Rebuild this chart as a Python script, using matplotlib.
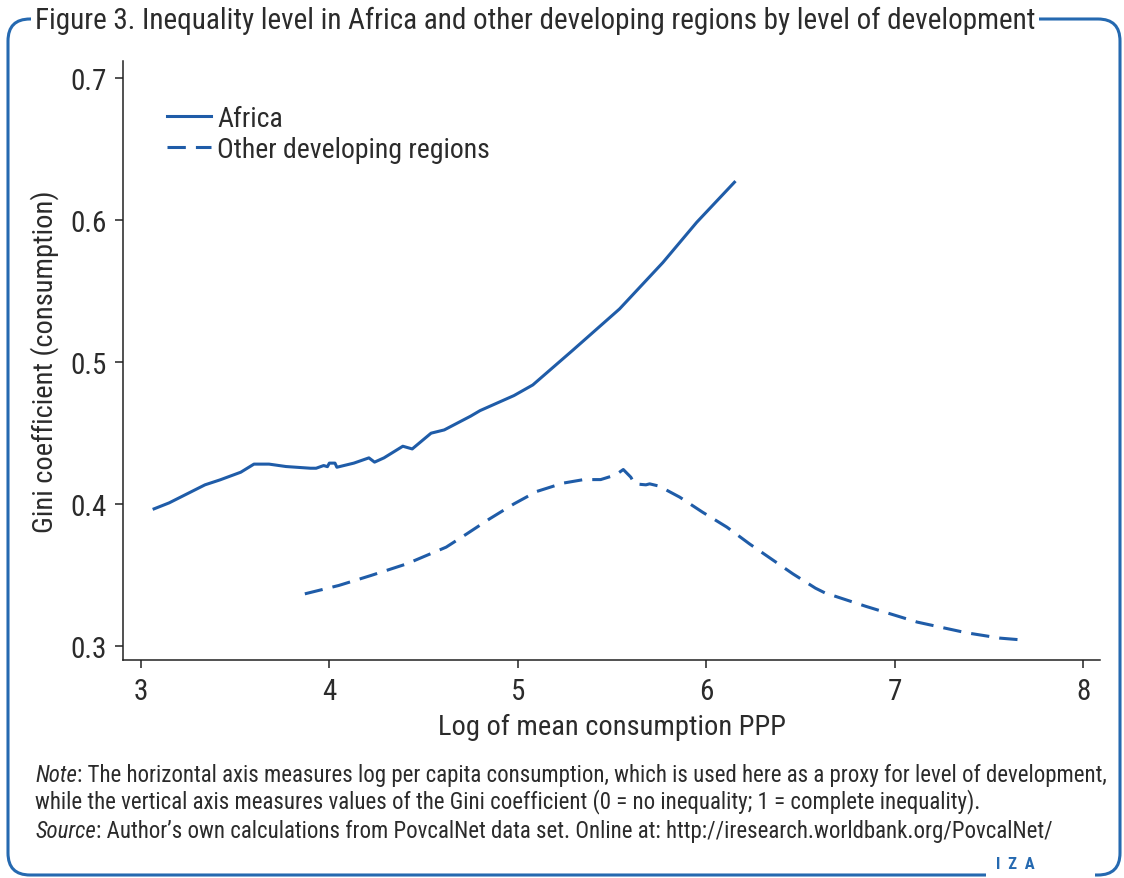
import matplotlib
matplotlib.use('Agg')
import matplotlib.pyplot as plt
from matplotlib import font_manager
from matplotlib.patches import FancyBboxPatch, Rectangle

# pick a narrow sans if one is there
names = {f.name for f in font_manager.fontManager.ttflist}
fams = [n for n in ['Liberation Sans Narrow', 'Roboto Condensed', 'DejaVu Sans'] if n in names]
plt.rcParams['font.family'] = fams + ['DejaVu Sans']

# values
africa_x = [3.07, 3.15, 3.34, 3.42, 3.53, 3.60, 3.68, 3.77, 3.90, 3.93, 3.97, 3.99,
            4.00, 4.03, 4.04, 4.13, 4.21, 4.24, 4.29, 4.39, 4.44, 4.54, 4.61, 4.75,
            4.80, 4.98, 5.08, 5.29, 5.54, 5.77, 5.95, 6.15]
africa_y = [0.3965, 0.4007, 0.4134, 0.4169, 0.4223, 0.4280, 0.4280, 0.4263, 0.4251,
            0.4251, 0.4270, 0.4262, 0.4287, 0.4287, 0.4258, 0.4287, 0.4324, 0.4294,
            0.4324, 0.4406, 0.4387, 0.4498, 0.4521, 0.4618, 0.4657, 0.4763, 0.4838,
            0.5080, 0.5373, 0.5700, 0.5984, 0.6266]

other_x = [3.87, 4.05, 4.22, 4.41, 4.62, 4.73, 4.85, 4.98, 5.10, 5.24, 5.35, 5.44,
           5.52, 5.56, 5.60, 5.62, 5.68, 5.70, 5.75, 5.86, 5.98, 6.11, 6.23, 6.46,
           6.58, 6.63, 6.85, 7.12, 7.38, 7.56, 7.67]
other_y = [0.3366, 0.3425, 0.3495, 0.3577, 0.3695, 0.3789, 0.3894, 0.4000, 0.4087,
           0.4146, 0.4171, 0.4171, 0.4204, 0.4242, 0.4188, 0.4141, 0.4134, 0.4141,
           0.4125, 0.4047, 0.3942, 0.3836, 0.3718, 0.3507, 0.3406, 0.3373, 0.3277,
           0.3167, 0.3092, 0.3054, 0.3042]

xticks = [3, 4, 5, 6, 7, 8]
yticks = [0.3, 0.4, 0.5, 0.6, 0.7]

title = "Figure 3. Inequality level in Africa and other developing regions by level of development"
note1 = ": The horizontal axis measures log per capita consumption, which is used here as a proxy for level of development,"
note2 = "while the vertical axis measures values of the Gini coefficient (0 = no inequality; 1 = complete inequality)."
src = ": Author\u2019s own calculations from PovcalNet data set. Online at: http://iresearch.worldbank.org/PovcalNet/"

blue = '#1f5ca8'
frame = '#2569b0'
txt = '#2b2b2b'

W, H = 1124, 879
fig = plt.figure(figsize=(W / 100, H / 100), dpi=100)

# rounded frame
box = FancyBboxPatch((0.30, 0.25), 10.68, 8.12, boxstyle='round,pad=0.22',
                     transform=fig.dpi_scale_trans, fill=False, ec=frame, lw=2.2)
fig.add_artist(box)
# gap in the bottom line for the logo
fig.add_artist(Rectangle((986 / W, 0), (1095 - 986) / W, 0.012, transform=fig.transFigure,
                         fc='white', ec='none', zorder=3))
fig.text(1015 / W, 1 - 865 / H, 'I  Z  A', color=frame, fontsize=12, fontweight='bold',
         ha='center', va='center', zorder=4)

fig.text(35 / W, 1 - 21 / H, title, fontsize=21, color=txt, va='center', ha='left',
         bbox=dict(fc='white', ec='none', pad=3), zorder=4)

ax = fig.add_axes([123 / W, 1 - 661 / H, (1100 - 123) / W, (661 - 62) / H])
ax.plot(africa_x, africa_y, color=blue, lw=2.2, label='Africa')
ax.plot(other_x, other_y, color=blue, lw=2.2, ls=(0, (6, 3.3)), label='Other developing regions')

ax.set_xlim(2.905, 8.09)
ax.set_ylim(0.29, 0.712)
ax.set_xticks(xticks)
ax.set_yticks(yticks)
ax.set_xticklabels([str(t) for t in xticks])
ax.set_yticklabels([str(t) for t in yticks])
for s in ['top', 'right']:
    ax.spines[s].set_visible(False)
for s in ['left', 'bottom']:
    ax.spines[s].set_color('#222222')
    ax.spines[s].set_linewidth(1.1)
ax.tick_params(direction='out', length=6, width=1.1, colors='#222222', labelsize=21,
               labelcolor=txt, pad=6)
ax.set_xlabel('Log of mean consumption PPP', fontsize=20.5, color=txt, labelpad=6)
ax.set_ylabel('Gini coefficient (consumption)', fontsize=20.5, color=txt, labelpad=8)

leg = ax.legend(loc='upper left', bbox_to_anchor=(0.045, 0.927), frameon=False, fontsize=20,
                handlelength=1.6, handletextpad=0.2, labelspacing=0.15, borderaxespad=0,
                borderpad=0)
for t in leg.get_texts():
    t.set_color(txt)

# notes with italic lead words
fig.canvas.draw()
r = fig.canvas.get_renderer()
inv = fig.transFigure.inverted()
for lead, rest, ypx in [('Note', note1, 776), (None, note2, 802), ('Source', src, 832)]:
    x0 = 35 / W
    if lead:
        t = fig.text(x0, 1 - ypx / H, lead, style='italic', fontsize=16.5, color=txt, va='center')
        x0 = inv.transform((t.get_window_extent(r).x1, 0))[0]
    fig.text(x0, 1 - ypx / H, rest, fontsize=16.5, color=txt, va='center')

fig.savefig('out.png', dpi=100)
